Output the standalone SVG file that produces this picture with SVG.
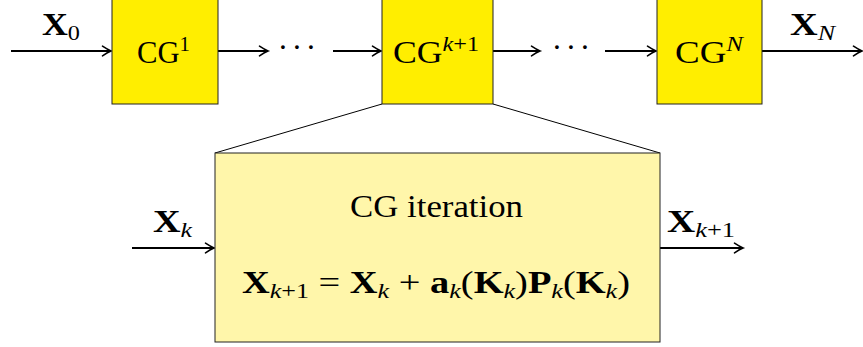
<svg xmlns="http://www.w3.org/2000/svg" width="863" height="347" viewBox="0 0 863 347">
<style>
text{font-family:"Liberation Serif","DejaVu Serif",serif;fill:#000;font-size:31px}
.b{font-weight:bold}
.s{font-style:italic;font-size:21px}
.n{font-size:21px}
.cg{fill:#FFEE00;stroke:#222;stroke-width:1}
.big{fill:#FFF6AA;stroke:#222;stroke-width:1}
.ar{stroke:#000;stroke-width:1.8;fill:none;marker-end:url(#ah)}
.thin{stroke:#000;stroke-width:1;fill:none}
</style>
<defs>
<marker id="ah" markerUnits="userSpaceOnUse" markerWidth="14" markerHeight="14" viewBox="-10 -7 12 14" refX="0" refY="0" orient="auto">
<path d="M-8.5,-4.8 Q-3,-1.2 0,0 Q-3,1.2 -8.5,4.8" stroke="#000" stroke-width="1.6" fill="none" stroke-linecap="round"/>
</marker>
</defs>
<g id="connectors">
<line class="ar" x1="11" y1="51" x2="111" y2="51"/>
<line class="ar" x1="218" y1="51" x2="268" y2="51"/>
<line class="ar" x1="333" y1="51" x2="381" y2="51"/>
<line class="ar" x1="493" y1="51" x2="540" y2="51"/>
<line class="ar" x1="605" y1="51" x2="656" y2="51"/>
<line class="ar" x1="762" y1="51" x2="862" y2="51"/>
<line class="thin" x1="382" y1="104" x2="215" y2="153"/>
<line class="thin" x1="493" y1="104" x2="660" y2="153"/>
<line class="ar" x1="132" y1="248" x2="214" y2="248"/>
<line class="ar" x1="660" y1="248" x2="743" y2="248"/>
</g>
<g id="labels">
<text x="42" y="35" textLength="38" lengthAdjust="spacingAndGlyphs"><tspan class="b">X</tspan><tspan class="n" dy="5">0</tspan></text>
<text x="790" y="35" textLength="45" lengthAdjust="spacingAndGlyphs"><tspan class="b">X</tspan><tspan class="s" dy="5">N</tspan></text>
<text x="153" y="232" textLength="39" lengthAdjust="spacingAndGlyphs"><tspan class="b">X</tspan><tspan class="s" dy="5">k</tspan></text>
<text x="667" y="232" textLength="68" lengthAdjust="spacingAndGlyphs"><tspan class="b">X</tspan><tspan class="s" dy="5">k</tspan><tspan class="n">+1</tspan></text>
<text x="283 297 311" y="58" text-anchor="middle">···</text>
<text x="557 571 585" y="58" text-anchor="middle">···</text>
</g>
<g id="cg1">
<rect class="cg" x="112" y="-1" width="106" height="105"/>
<text x="137" y="63" textLength="53" lengthAdjust="spacingAndGlyphs">CG<tspan class="n" dy="-12">1</tspan></text>
</g>
<g id="cgk1">
<rect class="cg" x="382" y="-1" width="111" height="105"/>
<text x="393" y="63" textLength="86" lengthAdjust="spacingAndGlyphs">CG<tspan class="s" dy="-12">k</tspan><tspan class="n">+1</tspan></text>
</g>
<g id="cgN">
<rect class="cg" x="657" y="-1" width="105" height="105"/>
<text x="675" y="63" textLength="68" lengthAdjust="spacingAndGlyphs">CG<tspan class="s" dy="-12">N</tspan></text>
</g>
<g id="iteration">
<rect class="big" x="215" y="153" width="445" height="189"/>
<text x="350" y="217" textLength="173" lengthAdjust="spacingAndGlyphs">CG iteration</text>
<text x="242" y="293" textLength="388" lengthAdjust="spacingAndGlyphs"><tspan class="b">X</tspan><tspan class="s" dy="5">k</tspan><tspan class="n">+1</tspan><tspan dy="-5"> = </tspan><tspan class="b">X</tspan><tspan class="s" dy="5">k</tspan><tspan dy="-5"> + </tspan><tspan class="b">a</tspan><tspan class="s" dy="5">k</tspan><tspan dy="-5">(</tspan><tspan class="b">K</tspan><tspan class="s" dy="5">k</tspan><tspan dy="-5">)</tspan><tspan class="b">P</tspan><tspan class="s" dy="5">k</tspan><tspan dy="-5">(</tspan><tspan class="b">K</tspan><tspan class="s" dy="5">k</tspan><tspan dy="-5">)</tspan></text>
</g>
</svg>
